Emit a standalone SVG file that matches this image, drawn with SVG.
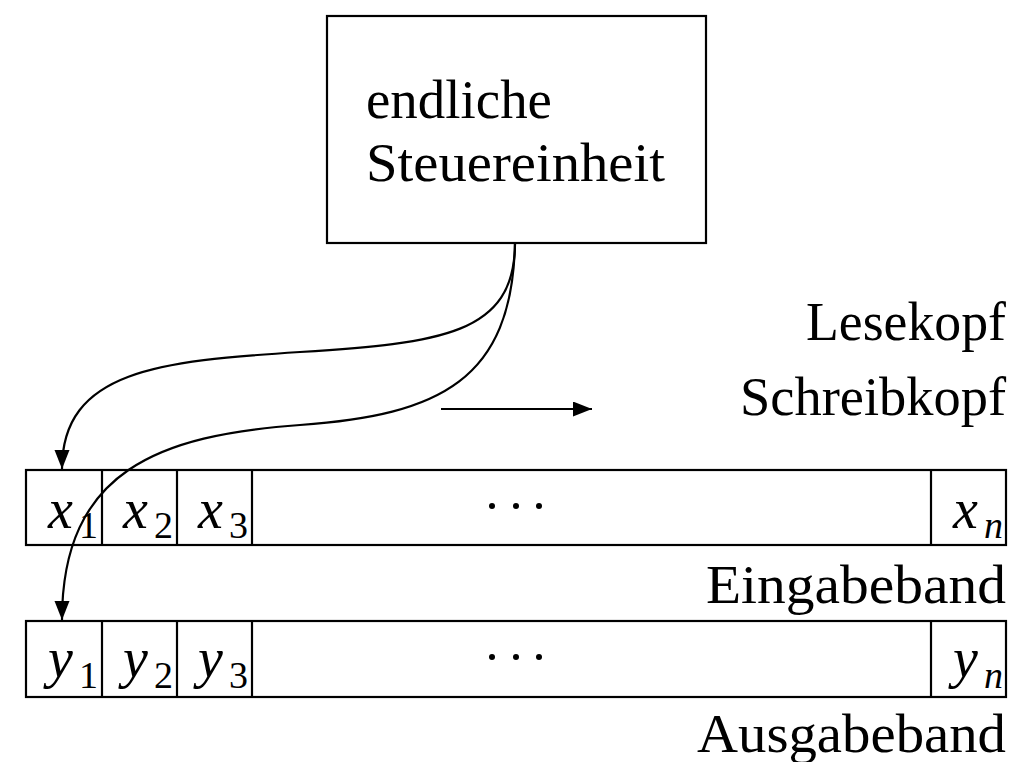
<svg xmlns="http://www.w3.org/2000/svg" width="1028" height="762" viewBox="0 0 1028 762">
<style>
.ln{fill:none;stroke:#000;stroke-width:2.2}
.t{font-family:"Liberation Serif","Times New Roman",serif;font-size:54px;fill:#000}
.m{font-family:"Liberation Serif","Times New Roman",serif;font-size:56px;font-style:italic;fill:#000}
.s{font-family:"Liberation Serif","Times New Roman",serif;font-size:38px;fill:#000}
.si{font-family:"Liberation Serif","Times New Roman",serif;font-size:38px;font-style:italic;fill:#000}
</style>
<defs>
<marker id="ah" markerUnits="userSpaceOnUse" markerWidth="22" markerHeight="16" refX="19" refY="7.5" orient="auto">
<path d="M0,0 L19,7.5 L0,15 Z" fill="#000"/>
</marker>
</defs>
<rect width="1028" height="762" fill="#fff"/>
<g id="control">
<rect class="ln" x="327" y="16" width="379" height="227"/>
<text class="t" x="366" y="118" textLength="186" lengthAdjust="spacingAndGlyphs">endliche</text>
<text class="t" x="366" y="181" textLength="299" lengthAdjust="spacingAndGlyphs">Steuereinheit</text>
</g>
<g id="head-label">
<text class="t" x="806" y="340" textLength="200" lengthAdjust="spacingAndGlyphs">Lesekopf</text>
<text class="t" x="740" y="415" textLength="266" lengthAdjust="spacingAndGlyphs">Schreibkopf</text>
</g>
<g id="input-tape">
<rect class="ln" x="26" y="470" width="980" height="75"/>
<line class="ln" x1="102" y1="470" x2="102" y2="545"/>
<line class="ln" x1="177" y1="470" x2="177" y2="545"/>
<line class="ln" x1="252" y1="470" x2="252" y2="545"/>
<line class="ln" x1="931" y1="470" x2="931" y2="545"/>
<text class="m" x="48" y="528">x</text><text class="s" x="79" y="538">1</text>
<text class="m" x="123" y="528">x</text><text class="s" x="154" y="538">2</text>
<text class="m" x="198" y="528">x</text><text class="s" x="229" y="538">3</text>
<circle cx="492" cy="506" r="3"/><circle cx="516" cy="506" r="3"/><circle cx="539" cy="506" r="3"/>
<text class="m" x="953" y="528">x</text><text class="si" x="984" y="538">n</text>
<text class="t" x="706" y="603" textLength="300" lengthAdjust="spacingAndGlyphs">Eingabeband</text>
</g>
<g id="output-tape">
<rect class="ln" x="26" y="621" width="980" height="76"/>
<line class="ln" x1="102" y1="621" x2="102" y2="697"/>
<line class="ln" x1="177" y1="621" x2="177" y2="697"/>
<line class="ln" x1="252" y1="621" x2="252" y2="697"/>
<line class="ln" x1="931" y1="621" x2="931" y2="697"/>
<text class="m" x="48" y="677">y</text><text class="s" x="79" y="688">1</text>
<text class="m" x="123" y="677">y</text><text class="s" x="154" y="688">2</text>
<text class="m" x="198" y="677">y</text><text class="s" x="229" y="688">3</text>
<circle cx="492" cy="657" r="3"/><circle cx="516" cy="657" r="3"/><circle cx="539" cy="657" r="3"/>
<text class="m" x="953" y="677">y</text><text class="si" x="984" y="688">n</text>
<text class="t" x="697" y="752" textLength="309" lengthAdjust="spacingAndGlyphs">Ausgabeband</text>
</g>
<g id="connectors">
<path class="ln" d="M515,243 C515,335 440,343 300,352 C160,361 62,370 62,469" marker-end="url(#ah)"/>
<path class="ln" d="M515,243 C512,380 440,415 300,425 C160,435 62,470 62,620" marker-end="url(#ah)"/>
<line class="ln" x1="441" y1="409" x2="592" y2="409" marker-end="url(#ah)"/>
</g>
</svg>
